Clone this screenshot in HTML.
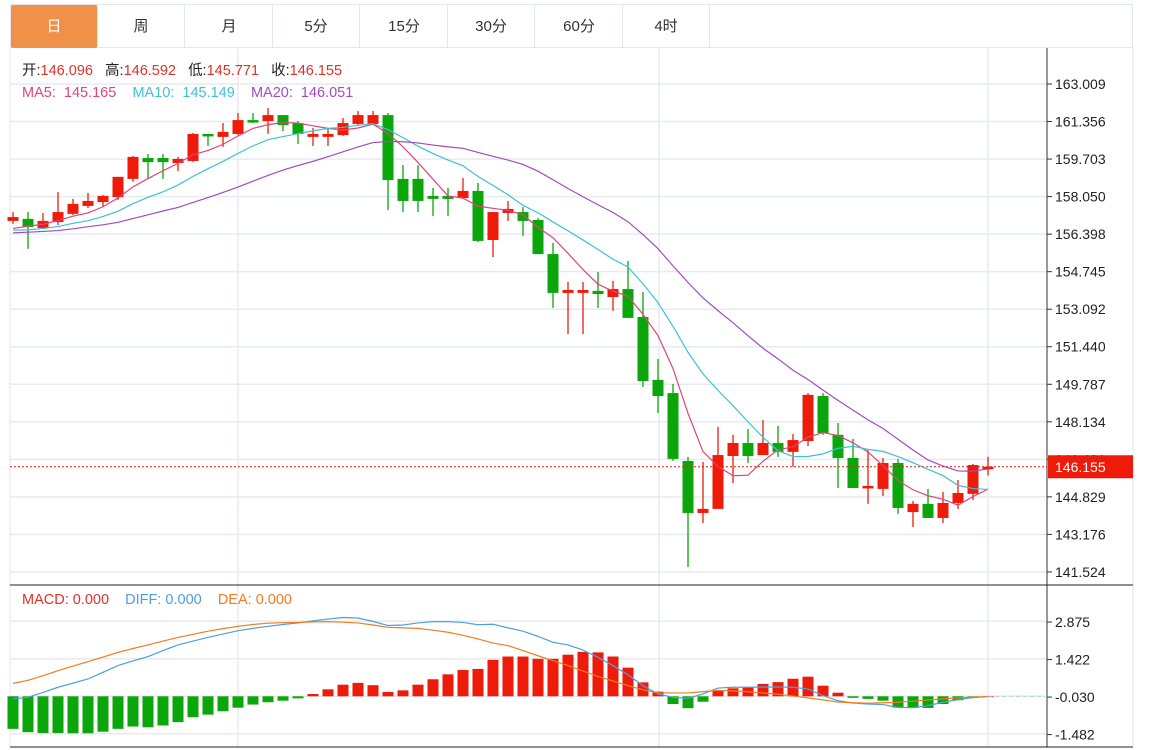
<!DOCTYPE html>
<html><head><meta charset="utf-8">
<style>
html,body{margin:0;padding:0;background:#fff;}
body{width:1150px;height:750px;overflow:hidden;position:relative;font-family:"Liberation Sans","Noto Sans CJK SC",sans-serif;}
.tabs{position:absolute;left:10px;top:4px;width:1123px;height:44px;border:1px solid #e3e6ea;border-bottom:1px solid #e3e6ea;box-sizing:border-box;}
.tab{position:absolute;top:0;height:43px;width:87px;line-height:43px;text-align:center;font-size:15px;color:#333;border-right:1px solid #e3e6ea;box-sizing:border-box;}
.tab.active{background:#f0914a;color:#fff;border-radius:2px;}
svg{position:absolute;left:0;top:0;}
</style></head><body>
<div class="tabs">
  <div class="tab active" style="left:0">日</div>
  <div class="tab" style="left:87px">周</div>
  <div class="tab" style="left:175px">月</div>
  <div class="tab" style="left:262px">5分</div>
  <div class="tab" style="left:350px">15分</div>
  <div class="tab" style="left:437px">30分</div>
  <div class="tab" style="left:525px">60分</div>
  <div class="tab" style="left:612px">4时</div>
</div>
<svg id="chart" width="1150" height="750"></svg>
<script>
const opens =[156.98,157.07,156.67,156.93,157.29,157.64,157.81,158.03,158.83,159.75,159.75,159.53,159.62,160.81,160.68,160.81,161.42,161.38,161.64,161.29,160.68,160.68,160.76,161.25,161.25,161.64,158.83,158.83,158.08,158.08,157.99,158.30,156.14,157.33,157.37,157.02,155.52,153.81,153.81,153.90,153.63,153.98,152.75,149.98,149.40,146.41,144.12,144.30,146.63,147.20,146.67,147.20,146.81,147.29,149.27,147.56,146.54,145.22,145.18,146.32,144.16,144.52,143.90,144.56,144.96,146.096];
const highs =[157.37,157.37,157.33,158.25,157.95,158.21,158.12,158.92,159.84,159.93,159.93,159.80,160.85,160.81,161.29,161.73,161.73,161.95,161.64,161.38,161.07,161.07,161.51,161.82,161.82,161.73,159.44,159.44,158.43,158.43,158.87,158.65,157.37,157.86,157.59,157.11,156.01,154.29,154.29,154.73,154.34,155.22,153.85,150.90,149.80,146.59,146.37,147.91,147.56,147.82,148.21,147.95,147.60,149.40,149.40,148.08,147.38,146.89,146.54,146.50,144.65,145.18,145.05,145.57,146.28,146.592];
const lows  =[156.85,155.75,156.62,156.80,157.24,157.55,157.59,157.90,158.70,158.83,158.83,159.18,159.57,160.28,160.24,160.76,161.29,160.81,160.94,160.37,160.28,160.28,160.72,161.20,161.20,157.46,157.37,157.37,157.20,157.20,157.95,156.05,155.39,156.98,156.32,155.52,153.15,152.00,152.00,153.15,153.02,152.71,149.67,148.52,146.41,141.74,143.68,144.30,145.44,146.32,146.67,146.59,146.15,147.07,147.56,145.22,145.22,144.52,144.87,144.08,143.50,143.90,143.68,144.30,144.69,145.771];
const closes=[157.15,156.71,156.98,157.37,157.73,157.86,158.08,158.92,159.80,159.57,159.57,159.71,160.81,160.76,160.90,161.42,161.38,161.64,161.20,160.81,160.81,160.81,161.29,161.64,161.64,158.78,157.86,157.86,157.95,157.95,158.30,156.10,157.37,157.51,156.98,155.52,153.81,153.94,153.94,153.76,153.98,152.71,149.93,149.27,146.50,144.12,144.30,146.67,147.20,146.63,147.20,146.81,147.33,149.32,147.64,146.54,145.22,145.31,146.32,144.34,144.52,143.90,144.56,145.00,146.23,146.155];
const priorCloses=[156.1,156.3,156.6,156.2,156.0,156.4,156.7,156.5,156.3,156.2,156.6,156.4,156.5,156.3,156.7,156.2,156.6,156.5,156.8];
const priceTicks=[163.009,161.356,159.703,158.050,156.398,154.745,153.092,151.440,149.787,148.134,146.481,144.829,143.176,141.524];
const macdHist=[-1.26,-1.39,-1.42,-1.42,-1.43,-1.43,-1.37,-1.26,-1.17,-1.2,-1.13,-1.0,-0.81,-0.71,-0.58,-0.44,-0.32,-0.23,-0.17,-0.08,0.09,0.27,0.45,0.52,0.43,0.17,0.23,0.45,0.66,0.85,1.02,1.06,1.41,1.54,1.54,1.45,1.45,1.61,1.72,1.70,1.54,1.11,0.54,0.18,-0.30,-0.46,-0.21,0.22,0.31,0.34,0.48,0.55,0.68,0.76,0.41,0.14,-0.06,-0.10,-0.17,-0.44,-0.45,-0.45,-0.30,-0.15,-0.04,0.0];
const diffVals=[-0.10,-0.04,0.15,0.35,0.51,0.67,0.93,1.19,1.37,1.54,1.77,1.99,2.14,2.28,2.41,2.54,2.63,2.71,2.78,2.84,2.92,2.99,3.05,3.03,2.9,2.74,2.76,2.84,2.89,2.89,2.86,2.77,2.79,2.65,2.52,2.32,2.09,1.99,1.79,1.51,1.19,0.83,0.41,0.09,-0.04,-0.08,0.09,0.32,0.35,0.35,0.36,0.36,0.35,0.28,0.03,-0.17,-0.26,-0.30,-0.32,-0.43,-0.44,-0.36,-0.23,-0.13,-0.05,-0.01];
const deaVals=[0.50,0.62,0.80,0.99,1.17,1.34,1.52,1.70,1.85,1.99,2.14,2.28,2.40,2.52,2.62,2.71,2.78,2.83,2.85,2.86,2.88,2.89,2.87,2.84,2.76,2.67,2.65,2.63,2.56,2.48,2.36,2.22,2.06,1.96,1.77,1.57,1.38,1.19,0.98,0.77,0.59,0.41,0.25,0.13,0.13,0.13,0.18,0.23,0.21,0.18,0.13,0.08,0.01,-0.06,-0.14,-0.22,-0.25,-0.27,-0.25,-0.23,-0.19,-0.14,-0.10,-0.06,-0.03,-0.01];
const macdTicks=[2.875,1.422,-0.030,-1.482];
const lastPrice=146.155;

const NS='http://www.w3.org/2000/svg';
const svg=document.getElementById('chart');
function mk(tag,attrs,parent){const e=document.createElementNS(NS,tag);for(const k in attrs)e.setAttribute(k,attrs[k]);(parent||svg).appendChild(e);return e;}
const X=i=>13+15*i;
const Y=p=>84+(163.009-p)*22.71;
const YM=v=>696.3-v*25.83;
const UP='#ee1b0b',DN='#0ba60b';

// grid
const grid=mk('g',{});


priceTicks.forEach(t=>{mk('line',{x1:10,x2:1047,y1:Y(t),y2:Y(t),stroke:'#e6ebf0','stroke-width':1.5},grid);});
macdTicks.forEach(t=>{mk('line',{x1:10,x2:1047,y1:YM(t)-0.8,y2:YM(t)-0.8,stroke:'#e6ebf0','stroke-width':1.5},grid);});
[238,659,988].forEach(x=>{mk('line',{x1:x,x2:x,y1:48,y2:747,stroke:'#e6ebf0','stroke-width':1.5},grid);});

// frame
mk('line',{x1:10,x2:10,y1:48,y2:747,stroke:'#e3e6ea'});
mk('line',{x1:1133,x2:1133,y1:48,y2:747,stroke:'#e3e6ea'});
mk('line',{x1:1047,x2:1047,y1:48,y2:747,stroke:'#333'});
mk('line',{x1:10,x2:1133,y1:585,y2:585,stroke:'#222'});
mk('line',{x1:10,x2:1133,y1:747,y2:747,stroke:'#222'});

// price axis
const pax=mk('g',{});


priceTicks.forEach(t=>{
  mk('line',{x1:1047,x2:1052,y1:Y(t),y2:Y(t),stroke:'#333'},pax);
  const tx=mk('text',{x:1055,y:Y(t)+5,'font-size':14,fill:'#222'},pax);tx.textContent=t.toFixed(3);
});
const max=mk('g',{});


macdTicks.forEach(t=>{
  mk('line',{x1:1047,x2:1052,y1:YM(t),y2:YM(t),stroke:'#333'},max);
  const tx=mk('text',{x:1055,y:YM(t)+5,'font-size':14,fill:'#222'},max);tx.textContent=t.toFixed(3);
});

// candles
const cg=mk('g',{});


opens.forEach((o,i)=>{
  const c=closes[i],col=c>=o?UP:DN,x=X(i);
  const g=mk('g',{},cg);
  
  
  mk('line',{x1:x,x2:x,y1:Y(highs[i]),y2:Y(lows[i]),stroke:col,'stroke-width':1.3},g);
  const top=Y(Math.max(o,c)),h=Math.max(2.5,Math.abs(Y(o)-Y(c)));
  mk('rect',{x:x-5.5,y:top,width:11,height:h,fill:col},g);
});

// moving averages
const allC=priorCloses.concat(closes),off=priorCloses.length;
function ma(n){return closes.map((_,i)=>{let s=0;for(let k=0;k<n;k++)s+=allC[off+i-k];return s/n;});}
[[5,'#e0457b','ma5-line'],[10,'#3ec1d3','ma10-line'],[20,'#a24bc0','ma20-line']].forEach(([n,col,name])=>{
  const v=ma(n);
  const pl=mk('polyline',{points:v.map((p,i)=>X(i)+','+Y(p)).join(' '),fill:'none',stroke:col,'stroke-width':1.2});
  
  
});

// last price line
const lp=mk('line',{x1:10,x2:1047,y1:Y(lastPrice),y2:Y(lastPrice),stroke:UP,'stroke-dasharray':'2,2'});


const lb=mk('rect',{x:1048,y:Y(lastPrice)-11.5,width:85,height:23,fill:UP});


const lt=mk('text',{x:1055,y:Y(lastPrice)+5,'font-size':14,fill:'#fff'});lt.textContent=lastPrice.toFixed(3);

// macd histogram
const hg=mk('g',{});


macdHist.forEach((v,i)=>{
  const y0=YM(0),y1=YM(v);
  const r=mk('rect',{x:X(i)-5.5,y:Math.min(y0,y1),width:11,height:Math.max(0.8,Math.abs(y1-y0)),fill:v>=0?UP:DN},hg);
  
  
});
mk('line',{x1:X(macdHist.length-1),x2:1047,y1:YM(0),y2:YM(0),stroke:'#9fd3e6','stroke-dasharray':'4,3'});
[[diffVals,'#4e9fe0','diff-line'],[deaVals,'#f07d1e','dea-line']].forEach(([v,col,name])=>{
  const pl=mk('polyline',{points:v.map((p,i)=>X(i)+','+YM(p)).join(' '),fill:'none',stroke:col,'stroke-width':1.2});
  
  
});

// legends
function legend(x,y,parts,name){
  const t=mk('text',{x:x,y:y,'font-size':14.5});
  
  
  parts.forEach(([s,col])=>{const ts=mk('tspan',{fill:col},t);ts.textContent=s;});
}
legend(22,75,[['开:','#222'],['146.096   ','#e0302a'],['高:','#222'],['146.592   ','#e0302a'],['低:','#222'],['145.771   ','#e0302a'],['收:','#222'],['146.155','#e0302a']],'ohlc-legend');
legend(22,97,[['MA5:  145.165    ','#e0457b'],['MA10:  145.149    ','#3ec1d3'],['MA20:  146.051','#a24bc0']],'ma-legend');
legend(22,604,[['MACD: 0.000    ','#e0302a'],['DIFF: 0.000    ','#4e9fe0'],['DEA: 0.000','#f07d1e']],'macd-legend');
document.querySelectorAll('text').forEach(t=>t.setAttribute('xml:space','preserve'));
document.querySelectorAll('text').forEach(t=>t.style.whiteSpace='pre');
</script>
</body></html>
